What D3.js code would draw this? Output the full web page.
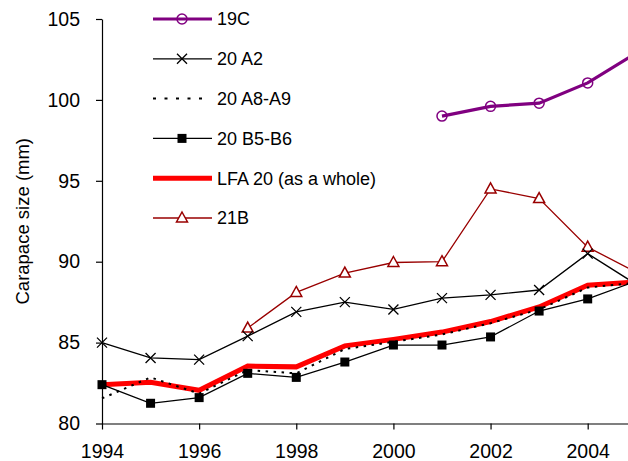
<!DOCTYPE html>
<html>
<head>
<meta charset="utf-8">
<script src="https://cdn.jsdelivr.net/npm/d3@7"></script>
<style>
	body { margin: 0; background: #fff; }
	svg { display: block; font-family: 'Liberation Sans', Arial, sans-serif; }
	.axis path, .axis line { stroke: #000; stroke-width: 1.2; }
	.axis text { font-size: 19.5px; fill: #000; font-family: 'Liberation Sans', Arial, sans-serif; }
</style>
</head>
<body>
<div id="chart"></div>
<script>
// years on the x axis
var years = [1994, 1995, 1996, 1997, 1998, 1999, 2000, 2001, 2002, 2003, 2004, 2005];

// carapace size (mm) per series, null = no data
var s19C   = [null, null, null, null, null, null, null, 99.0, 99.6, 99.8, 101.05, 102.9];
var s20A2  = [85.0, 84.05, 83.95, 85.4, 86.9, 87.5, 87.05, 87.75, 87.95, 88.25, 90.5, 88.6];
var s20A8  = [81.55, 82.85, 81.85, 83.3, 83.1, 84.6, 85.05, 85.5, 86.2, 87.05, 88.4, 88.7];
var s20B5  = [82.4, 81.25, 81.6, 83.1, 82.85, 83.8, 84.85, 84.85, 85.35, 86.95, 87.7, 88.8];
var lfa20  = [82.4, 82.55, 82.05, 83.55, 83.5, 84.8, 85.2, 85.65, 86.3, 87.2, 88.55, 88.75];
var s21B   = [null, null, null, 85.9, 88.1, 89.3, 89.95, 90.0, 94.5, 93.9, 90.9, 89.35];

var xTicks = [1994, 1996, 1998, 2000, 2002, 2004];
var yTicks = [80, 85, 90, 95, 100, 105];

var width = 628,
	height = 461,
	margin = { top: 19, bottom: 37.5, left: 102, right: 0 },
	drawWidth = width - margin.left - margin.right,
	drawHeight = height - margin.top - margin.bottom;

var series = [
	{ name: '19C', values: s19C, color: '#800080', width: 3.2, marker: 'circle', dash: null },
	{ name: '20 A2', values: s20A2, color: '#000', width: 1.3, marker: 'cross', dash: null },
	{ name: '20 A8-A9', values: s20A8, color: '#000', width: 2, marker: null, dash: '2.5,5.5' },
	{ name: '20 B5-B6', values: s20B5, color: '#000', width: 1.3, marker: 'square', dash: null },
	{ name: 'LFA 20 (as a whole)', values: lfa20, color: '#ff0000', width: 5, marker: null, dash: null },
	{ name: '21B', values: s21B, color: '#990000', width: 1.3, marker: 'triangle', dash: null }
];

var svg = d3.select('#chart').append('svg')
	.attr('width', width)
	.attr('height', height);

var g = svg.append('g')
	.attr('transform', 'translate(' + margin.left + ',' + margin.top + ')');

var xScale = d3.scaleLinear().domain([1994, 2004.83]).range([0, drawWidth]);
var yScale = d3.scaleLinear().domain([80, 105]).range([drawHeight, 0]);

svg.append('defs').append('clipPath').attr('id', 'clip')
	.append('rect')
	.attr('x', -20).attr('y', -20)
	.attr('width', drawWidth + 20).attr('height', drawHeight + 40);

// axes
g.append('g').attr('class', 'axis')
	.attr('transform', 'translate(0,' + drawHeight + ')')
	.call(d3.axisBottom(xScale).tickValues(xTicks).tickFormat(d3.format('d')).tickSize(6).tickSizeOuter(0).tickPadding(15));

g.append('g').attr('class', 'axis')
	.call(d3.axisLeft(yScale).tickValues(yTicks).tickSize(6).tickSizeOuter(0).tickPadding(16));

svg.append('text')
	.attr('transform', 'translate(29,' + (margin.top + drawHeight / 2) + ') rotate(-90)')
	.attr('text-anchor', 'middle')
	.attr('font-size', 18.5)
	.text('Carapace size (mm)');

function drawMarker(sel, type, color) {
	if (type === 'circle') {
		sel.append('circle').attr('r', 5).attr('fill', 'none').attr('stroke', color).attr('stroke-width', 1.5);
	} else if (type === 'cross') {
		sel.append('path').attr('d', 'M-5,-5L5,5M-5,5L5,-5').attr('stroke', color).attr('stroke-width', 1.3);
	} else if (type === 'square') {
		sel.append('rect').attr('x', -4.5).attr('y', -4.5).attr('width', 9).attr('height', 9).attr('fill', color);
	} else if (type === 'triangle') {
		sel.append('path').attr('d', 'M0,-6L5.5,4L-5.5,4Z').attr('fill', '#fff').attr('stroke', color).attr('stroke-width', 1.5);
	}
}

var line = d3.line()
	.defined(function(d) { return d.v !== null; })
	.x(function(d) { return xScale(d.year); })
	.y(function(d) { return yScale(d.v); });

var plot = g.append('g').attr('clip-path', 'url(#clip)');

// red whole-LFA line underneath, the rest on top
var drawOrder = [4, 0, 5, 1, 2, 3];
drawOrder.forEach(function(i) {
	var s = series[i];
	var pts = years.map(function(y, j) { return { year: y, v: s.values[j] }; });
	plot.append('path')
		.datum(pts)
		.attr('fill', 'none')
		.attr('stroke', s.color)
		.attr('stroke-width', s.width)
		.attr('stroke-dasharray', s.dash)
		.attr('d', line);
	if (s.marker) {
		plot.selectAll(null)
			.data(pts.filter(function(d) { return d.v !== null; }))
			.enter().append('g')
			.attr('transform', function(d) { return 'translate(' + xScale(d.year) + ',' + yScale(d.v) + ')'; })
			.each(function() { drawMarker(d3.select(this), s.marker, s.color); });
	}
});

// legend
var legend = svg.append('g');
series.forEach(function(s, i) {
	var row = legend.append('g').attr('transform', 'translate(153,' + (19 + i * 39.8) + ')');
	row.append('line')
		.attr('x1', 0).attr('x2', s.dash ? 56 : 59)
		.attr('stroke', s.color)
		.attr('stroke-width', s.width)
		.attr('stroke-dasharray', s.dash ? '3,8.5' : null);
	if (s.marker) {
		drawMarker(row.append('g').attr('transform', 'translate(29,0)'), s.marker, s.color);
	}
	row.append('text')
		.attr('x', 64).attr('dy', '0.35em')
		.attr('font-size', 18)
		.text(s.name);
});
</script>
</body>
</html>
